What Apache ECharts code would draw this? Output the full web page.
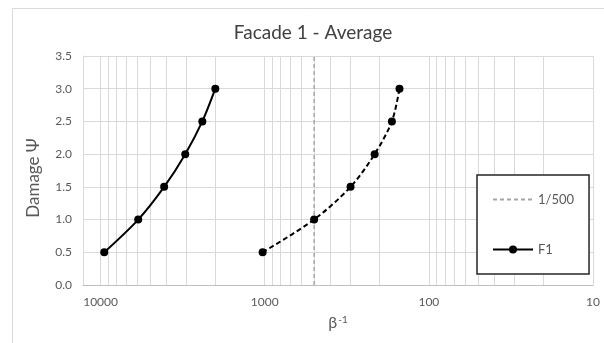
<!DOCTYPE html>
<html>
<head>
<meta charset="utf-8">
<script src="https://cdn.jsdelivr.net/npm/echarts@6/dist/echarts.min.js"></script>
<style>
  html, body { margin: 0; padding: 0; background: #fff; }
  #chart { width: 604px; height: 343px; }
</style>
</head>
<body>
<div id="chart"></div>
<script>
// Damage level for each point of the curves
const damage = [0.5, 1.0, 1.5, 2.0, 2.5, 3.0];
// β^-1 values of the F1 curve (solid)
const f1Beta = [9500, 5900, 4100, 3050, 2400, 2000];
// β^-1 values of the second F1 curve (dashed)
const f1bBeta = [1030, 500, 300, 214, 168, 151];
// Reference limit 1/500
const limitBeta = 500;
const limitSpan = [0, 3.5];
// Axis labels
const xTickLabels = [10, 100, 1000, 10000];
const yMin = 0, yMax = 3.5, yStep = 0.5;
const xMin = 10, xMax = 12800;

const FONT = 'Lato, "Open Sans", sans-serif';
const GRID_COLOR = '#d9d9d9';
const TEXT_COLOR = '#595959';

const pairs = (xs, ys) => xs.map((x, i) => [x, ys[i]]);

const chart = echarts.init(document.getElementById('chart'), null, { renderer: 'canvas' });

chart.setOption({
  backgroundColor: '#fff',
  animation: false,
  title: {
    text: 'Facade 1 - Average',
    left: 313,
    top: 23,
    padding: 0,
    textAlign: 'center',
    textStyle: { fontFamily: FONT, fontSize: 19, fontWeight: 'normal', color: '#404040' }
  },
  graphic: [
    {
      type: 'rect',
      z: -10,
      silent: true,
      shape: { x: 12.5, y: 8.5, width: 640, height: 360 },
      style: { fill: 'none', stroke: '#d9d9d9', lineWidth: 1 }
    },
    {
      type: 'text',
      x: 34,
      y: 178,
      rotation: Math.PI / 2,
      silent: true,
      style: {
        text: 'Damage Ψ',
        fontFamily: FONT,
        fontSize: 17,
        fill: TEXT_COLOR,
        align: 'center',
        verticalAlign: 'middle'
      }
    }
  ],
  grid: { left: 83, right: 11, top: 56, bottom: 58 },
  legend: {
    data: [
      { name: '1/500', itemStyle: { opacity: 0 } },
      'F1'
    ],
    orient: 'vertical',
    left: 477,
    top: 175,
    padding: [18, 15, 18, 15],
    itemGap: 37,
    itemWidth: 40,
    itemHeight: 10,
    borderColor: '#262626',
    borderWidth: 1.5,
    backgroundColor: '#fff',
    textStyle: { fontFamily: FONT, fontSize: 13, color: TEXT_COLOR }
  },
  xAxis: {
    type: 'log',
    logBase: 10,
    min: xMin,
    max: xMax,
    inverse: true,
    name: '{b|β}{s|-1}',
    nameLocation: 'middle',
    nameGap: 30,
    nameTextStyle: {
      rich: {
        b: { fontFamily: FONT, fontSize: 16, color: TEXT_COLOR },
        s: { fontFamily: FONT, fontSize: 10, color: TEXT_COLOR, verticalAlign: 'top', padding: [0, 0, 6, 1] }
      }
    },
    axisLine: { show: true, lineStyle: { color: '#bfbfbf', width: 1 } },
    axisTick: { show: false },
    axisLabel: {
      fontFamily: FONT,
      fontSize: 12,
      color: TEXT_COLOR,
      margin: 11,
      formatter: (v) => (xTickLabels.some(t => Math.abs(t - v) < 1e-6 * t) ? String(Math.round(v)) : '')
    },
    splitLine: { show: true, lineStyle: { color: GRID_COLOR, width: 1 } },
    minorTick: { show: false, splitNumber: 9 },
    minorSplitLine: { show: true, lineStyle: { color: GRID_COLOR, width: 1 } }
  },
  yAxis: {
    type: 'value',
    min: yMin,
    max: yMax,
    interval: yStep,
    axisLine: { show: true, lineStyle: { color: GRID_COLOR, width: 1 } },
    axisTick: { show: false },
    axisLabel: {
      fontFamily: FONT,
      fontSize: 12,
      color: TEXT_COLOR,
      margin: 11,
      formatter: (v) => v.toFixed(1)
    },
    splitLine: { show: true, lineStyle: { color: GRID_COLOR, width: 1 } }
  },
  series: [
    {
      name: '1/500',
      type: 'line',
      data: limitSpan.map(y => [limitBeta, y]),
      symbol: 'none',
      color: '#a6a6a6',
      lineStyle: { color: '#a6a6a6', width: 1.5, type: [4, 3] },
      z: 2
    },
    {
      name: 'F1',
      type: 'line',
      data: pairs(f1Beta, damage),
      smooth: 0.3,
      symbol: 'circle',
      symbolSize: 8,
      color: '#000',
      itemStyle: { color: '#000' },
      lineStyle: { color: '#000', width: 2 },
      z: 3
    },
    {
      name: 'F1 (2)',
      type: 'line',
      data: pairs(f1bBeta, damage),
      smooth: 0.3,
      symbol: 'circle',
      symbolSize: 8,
      color: '#000',
      itemStyle: { color: '#000' },
      lineStyle: { color: '#000', width: 2, type: [5, 3] },
      z: 3
    }
  ]
});
</script>
</body>
</html>
